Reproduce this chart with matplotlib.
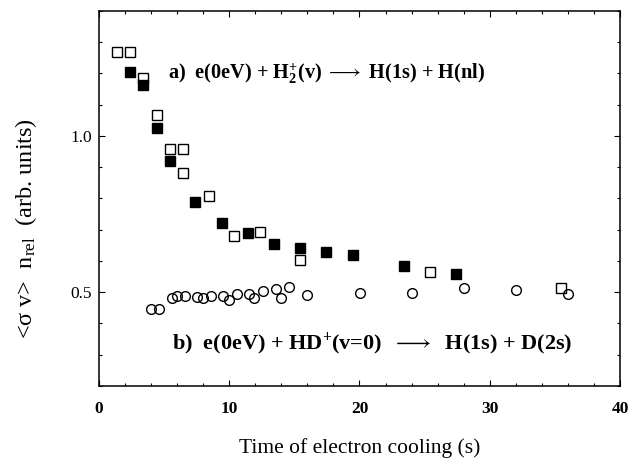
import matplotlib
matplotlib.use("Agg")
import matplotlib.pyplot as plt
from matplotlib.ticker import MultipleLocator

# ── data: e + H2+ (two runs, filled / open squares) and e + HD+ (circles) ──
h2_filled_t = [2.4, 3.4, 4.43, 5.45, 7.39, 9.44, 11.46, 13.41, 15.43, 17.44, 19.48, 23.42, 27.43]
h2_filled_r = [1.204, 1.161, 1.025, 0.921, 0.789, 0.721, 0.690, 0.653, 0.640, 0.630, 0.618, 0.584, 0.558]

h2_open_t = [1.4, 2.4, 3.4, 4.43, 5.45, 6.45, 6.45, 8.45, 10.39, 12.4, 15.43, 25.44, 35.47]
h2_open_r = [1.268, 1.268, 1.185, 1.068, 0.958, 0.958, 0.880, 0.807, 0.681, 0.694, 0.603, 0.565, 0.514]

hd_t = [3.99, 4.61, 5.63, 6.01, 6.6, 7.55, 7.96, 8.58, 9.54, 10.0, 10.57, 11.54, 11.92,
        12.57, 13.59, 13.97, 14.59, 15.99, 20.04, 24.0, 28.0, 32.0, 36.0]
hd_r = [0.446, 0.446, 0.482, 0.487, 0.488, 0.485, 0.482, 0.487, 0.487, 0.475, 0.493, 0.495, 0.480,
        0.503, 0.511, 0.482, 0.515, 0.490, 0.498, 0.496, 0.512, 0.506, 0.495]

plt.rcParams['font.family'] = ['Liberation Serif', 'DejaVu Serif']
plt.rcParams['mathtext.fontset'] = 'custom'
plt.rcParams['mathtext.rm'] = 'Liberation Serif'
plt.rcParams['mathtext.it'] = 'Liberation Serif:italic'
plt.rcParams['mathtext.bf'] = 'Liberation Serif:bold'

fig = plt.figure(figsize=(6.44, 4.68), dpi=100)
ax = fig.add_axes([0.1537, 0.1752, 0.8090, 0.8019])

ax.plot(h2_open_t, h2_open_r, 's', ms=7.5, mfc='white', mec='black', mew=1.0, ls='none')
ax.plot(h2_filled_t, h2_filled_r, 's', ms=7.5, mfc='black', mec='black', ls='none')
ax.plot(hd_t, hd_r, 'o', ms=7, mfc='none', mec='black', mew=1.0, ls='none')

ax.set_xlim(0, 40)
ax.set_ylim(0.2, 1.4)
ax.set_xticks([0, 10, 20, 30, 40])
ax.xaxis.set_minor_locator(MultipleLocator(2))
ax.set_yticks([0.5, 1.0])
ax.set_yticklabels(['0.5', '1.0'])
ax.yaxis.set_minor_locator(MultipleLocator(0.1))
ax.tick_params(which='both', direction='in', top=True, right=True, width=0.8)
ax.tick_params(which='major', length=4)
ax.tick_params(which='minor', length=2.5)
ax.tick_params(axis='x', pad=11, labelsize=12.5)
ax.tick_params(axis='y', pad=5, labelsize=12.5)
for lab in ax.get_xticklabels():
    lab.set_fontweight('bold')
for s in ax.spines.values():
    s.set_linewidth(1.1)

ax.set_xlabel('Time of electron cooling (s)', fontsize=15.5, labelpad=15)
ax.set_ylabel(r'<σ v>  n$_\mathrm{rel}$  (arb. units)', fontsize=17.5)
ax.yaxis.set_label_coords(-0.115, 0.42)

ax.text(5.3, 1.2, r'a)  e(0eV) + H$_\mathbf{2}^\mathbf{+}$(v) $\longrightarrow$ H(1s) + H(nl)',
        fontsize=14.6, fontweight='bold', va='center', ha='left')
ax.text(5.6, 0.335, r'b)  e(0eV) + HD$^\mathbf{+}$(v=0)  $\longrightarrow$  H(1s) + D(2s)',
        fontsize=16, fontweight='bold', va='center', ha='left')

fig.savefig('out.png', dpi=100)
